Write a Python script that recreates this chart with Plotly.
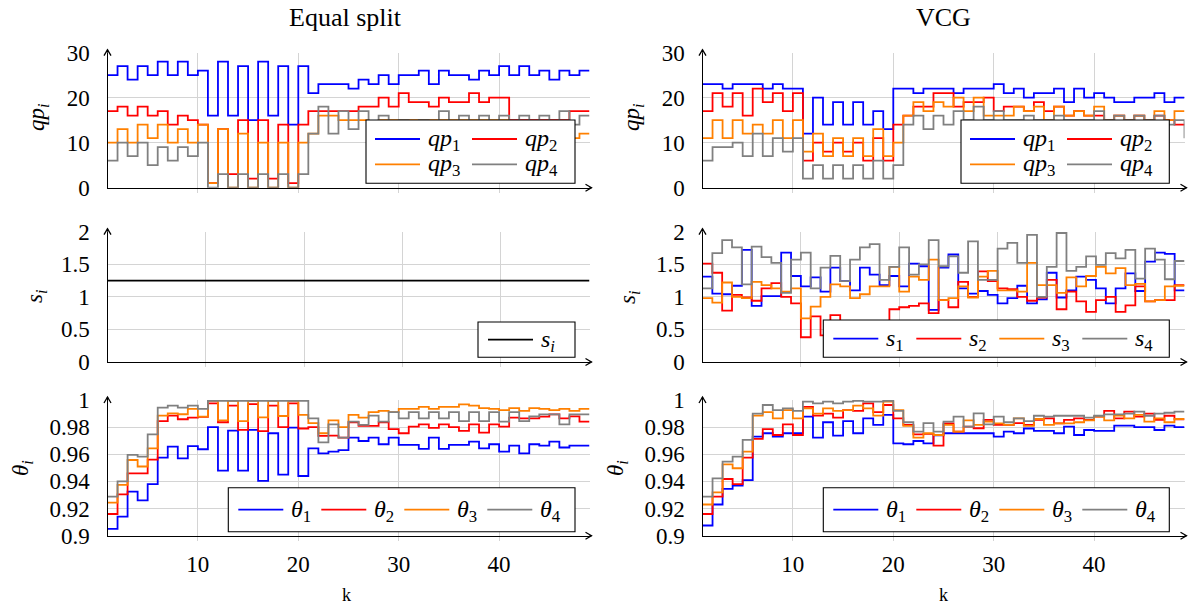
import plotly.graph_objects as go

# ---------------- data ----------------
k_main = list(range(1, 50))   # steps k = 1..49 (last value is the end point)
k_s = list(range(0, 50))      # s-panels run k = 0..49

qp1_eq = [25,27,24,27,25,28,25,28,25,26, 16,28,16,27,15,28,16,27,14,27,
          21,23,23,23,22,24,23,25,23,25, 25,26,23,26,25,25,24,26,25,27,
          25,27,25,26,24,26,25,26, 26]
qp2_eq = [17,18,16,18,16,17,14,16,15,14, 1,13,3,15,2,15,2,14,1,14,
          17,17,17,17,17,18,18,20,18,21, 19,19,18,20,19,19,21,19,20,20,
          15,15,15,15,15,15,17,17, 17]
qp3_eq = [10,13,10,14,11,14,10,13,10,14, 1,13,0,12,0,10,0,10,0,10,
          12,16,16,15,15,15,14,15,15,15, 15,15,15,15,15,15,15,15,15,15,
          14,14,14,14,13,13,11,12, 12]
qp4_eq = [6,10,7,10,5,9,6,9,7,10, 0,3,0,3,0,3,0,3,0,3,
          12,18,12,17,13,17,13,16,13,15, 14,15,14,17,14,16,14,16,14,16,
          14,16,14,16,14,17,14,16, 16]

qp1_vcg = [23,23,22,23,23,23,22,23,22,22, 12,20,14,19,14,19,14,17,13,22,
           22,21,22,22,22,21,22,22,22,23, 21,22,20,21,21,22,19,22,20,21,
           20,19,19,20,20,21,19,20, 20]
qp2_vcg = [17,21,18,21,16,22,19,21,17,21, 6,10,8,10,8,10,6,11,6,14,
           16,18,18,21,21,18,19,19,20,17, 18,18,17,19,17,18,16,17,16,16,
           15,16,15,16,15,16,15,14, 14]
qp3_vcg = [11,15,11,15,12,14,12,15,11,15, 8,12,7,11,7,11,7,13,7,10,
           16,19,17,19,18,20,17,20,16,16, 16,18,17,18,15,18,16,17,16,18,
           15,16,15,16,15,17,15,17, 17]
qp4_vcg = [6,9,9,10,7,12,7,11,8,11, 2,5,2,5,2,5,2,6,2,5,
           14,16,13,16,14,17,15,18,15,17, 15,15,16,15,15,16,15,15,15,17,
           15,16,15,16,15,16,14,15, 11]

s_eq = [1.25] * 50

s1_vcg = [1.31,1.05,1.04,1.17,1.72,0.86,1.01,1.01,1.68,1.32,
          1.16,1.30,1.08,1.45,1.24,1.10,1.45,1.34,1.18,1.32,
          1.16,1.51,1.47,0.80,1.45,1.65,1.13,1.05,1.09,1.03,
          0.90,0.98,1.17,0.90,0.96,1.37,0.99,1.10,1.31,1.26,
          1.13,0.90,1.13,1.36,1.09,1.54,1.68,1.66,1.10, 1.10]
s2_vcg = [1.51,1.37,0.79,1.03,0.99,0.94,1.13,1.21,1.00,0.90,
          0.38,0.70,0.41,0.72,0.55,0.62,0.50,0.58,0.62,0.81,
          0.84,0.86,0.90,0.75,0.95,0.84,1.23,1.00,1.39,1.24,
          1.13,1.12,1.00,0.94,0.99,1.26,0.81,1.08,0.93,0.77,
          0.95,1.00,0.77,0.87,1.16,0.93,0.95,0.95,1.18, 1.18]
s3_vcg = [0.98,0.91,1.22,1.00,0.98,1.23,1.18,1.13,1.08,1.13,
          0.67,0.85,1.00,1.19,1.16,0.98,1.04,1.16,1.16,1.46,
          1.08,1.31,1.26,1.57,0.95,0.98,1.16,0.99,1.31,1.40,
          1.10,1.10,1.08,1.52,1.18,1.18,1.06,1.30,1.16,1.32,
          1.46,1.36,1.44,1.18,1.20,0.93,0.95,1.16,1.17, 1.17]
s4_vcg = [1.13,1.67,1.87,1.76,1.19,1.77,1.61,1.52,1.06,1.57,
          1.68,1.13,1.45,1.63,1.24,1.57,1.76,1.81,1.26,1.46,
          1.76,1.34,1.50,1.87,1.47,1.62,1.37,1.85,1.26,1.26,
          1.74,1.83,1.52,1.95,1.00,1.46,1.98,1.40,1.46,1.62,
          1.49,1.67,1.59,1.72,1.28,1.74,1.57,1.27,1.55, 1.55]

th1_eq = [0.905,0.914,0.9325,0.926,0.938,0.9575,0.9656,0.957,0.966,0.9637,
          0.980,0.948,0.9774,0.948,0.978,0.9404,0.9755,0.945,0.9796,0.944,
          0.9644,0.9607,0.962,0.963,0.9723,0.9698,0.9723,0.9674,0.9723,0.967,
          0.967,0.964,0.9723,0.964,0.967,0.967,0.9693,0.9644,0.9674,0.962,
          0.9664,0.9607,0.9674,0.9664,0.9693,0.965,0.9664,0.9664, 0.9664]
th2_eq = [0.916,0.9305,0.946,0.946,0.956,0.9845,0.9885,0.9858,0.987,0.9875,
          0.9975,0.9836,0.9958,0.978,0.997,0.977,0.9958,0.980,0.9975,0.979,
          0.980,0.9735,0.9737,0.9723,0.9836,0.981,0.981,0.9836,0.9786,0.9755,
          0.9804,0.982,0.9795,0.982,0.980,0.9772,0.982,0.976,0.982,0.9804,
          0.987,0.9865,0.9865,0.9877,0.9894,0.9865,0.988,0.984, 0.984]
th3_eq = [0.9244,0.9374,0.9558,0.951,0.9644,0.9885,0.9902,0.9895,0.9934,0.9877,
          0.9993,0.985,0.9993,0.9845,0.9993,0.9872,0.9993,0.9882,0.9993,0.989,
          0.983,0.9755,0.985,0.980,0.989,0.987,0.991,0.992,0.991,0.9934,
          0.9934,0.995,0.9934,0.995,0.995,0.9968,0.9958,0.994,0.9934,0.9926,
          0.994,0.992,0.994,0.9934,0.9926,0.9934,0.992,0.9934, 0.9934]
th4_eq = [0.9288,0.940,0.9595,0.9583,0.9747,0.9944,0.9958,0.9944,0.9958,0.9934,
          0.9993,0.9993,0.9993,0.9993,0.9993,0.9993,0.9993,0.9993,0.9993,0.9993,
          0.9865,0.9688,0.982,0.9723,0.984,0.9816,0.9885,0.984,0.991,0.9865,
          0.991,0.9865,0.991,0.9865,0.991,0.9845,0.991,0.9845,0.991,0.984,
          0.991,0.9845,0.988,0.9894,0.9894,0.982,0.9894,0.9894, 0.9894]

th1_vcg = [0.9075,0.923,0.9345,0.937,0.941,0.973,0.9755,0.973,0.9755,0.9755,
           0.9877,0.9723,0.9836,0.9737,0.9845,0.9755,0.9865,0.9816,0.989,0.968,
           0.9674,0.9698,0.968,0.974,0.9755,0.9755,0.9755,0.9755,0.9755,0.973,
           0.9767,0.9755,0.979,0.9772,0.9772,0.9755,0.9804,0.9742,0.9779,0.9772,
           0.9772,0.9811,0.9811,0.980,0.980,0.9779,0.9811,0.980, 0.980]
th2_vcg = [0.916,0.9288,0.9418,0.938,0.9575,0.9713,0.9786,0.9742,0.982,0.9742,
           0.995,0.9885,0.990,0.987,0.9926,0.992,0.9975,0.991,0.9963,0.9865,
           0.9816,0.9747,0.975,0.9664,0.9828,0.9767,0.9804,0.9792,0.9853,0.9816,
           0.9816,0.983,0.9816,0.9853,0.9865,0.9828,0.9853,0.9865,0.9853,0.9877,
           0.992,0.9865,0.9914,0.9877,0.990,0.9853,0.9884,0.9858, 0.9858]
th3_vcg = [0.923,0.932,0.9526,0.9497,0.962,0.9885,0.991,0.9865,0.9926,0.9865,
           0.9939,0.990,0.9939,0.992,0.9926,0.9958,0.9939,0.9885,0.9988,0.9926,
           0.981,0.9723,0.9755,0.9742,0.9816,0.9767,0.985,0.9816,0.9841,0.9828,
           0.9816,0.9865,0.981,0.986,0.9816,0.9828,0.9828,0.9836,0.985,0.9877,
           0.985,0.9885,0.9865,0.989,0.984,0.9865,0.9836,0.986, 0.986]
th4_vcg = [0.9288,0.9423,0.9546,0.9583,0.9706,0.990,0.9963,0.9926,0.9939,0.992,
           0.9988,0.9975,0.9988,0.9975,0.9988,0.9993,0.9988,0.9988,0.9993,0.992,
           0.9836,0.9767,0.983,0.9767,0.9841,0.9877,0.9804,0.9902,0.982,0.9877,
           0.9836,0.9865,0.9845,0.9884,0.9877,0.9884,0.9884,0.9884,0.987,0.9884,
           0.9894,0.9894,0.990,0.9914,0.9884,0.990,0.9906,0.9914, 0.9914]

qp_ticks = [0, 10, 20, 30]
s_ticks = [0, 0.5, 1, 1.5, 2]
s_tick_text = ["0", "0.5", "1", "1.5", "2"]
th_ticks = [0.9, 0.92, 0.94, 0.96, 0.98, 1.0]
th_tick_text = ["0.9", "0.92", "0.94", "0.96", "0.98", "1"]
k_ticks = [10, 20, 30, 40]

# ---------------- style ----------------
W, H = 1188, 608
SERIF = "Liberation Serif"
BLUE, RED, ORANGE, GRAY = "#0000ff", "#ff0000", "#ff8000", "#808080"
GRID = "#d4d4d4"
LW = 1.8

def px_x(p):
    return p / W

def px_y(p):
    return 1 - p / H

COLS = [(107.5, 589.5), (702.5, 1184.5)]
ROWS = [(52.7, 187.7), (231.7, 362.0), (400.0, 535.7)]
col_dom = [[px_x(a), px_x(b)] for a, b in COLS]
row_dom = [[px_y(b), px_y(a)] for a, b in ROWS]

fig = go.Figure()

def step(x, y, name, color, ax):
    fig.add_trace(go.Scatter(
        x=x, y=y, mode="lines", line=dict(color=color, width=LW, shape="hv"),
        name=name, xaxis="x" + ax, yaxis="y" + ax, showlegend=False, hoverinfo="skip"))

def sub(t, i):
    return "<i>%s</i><sub>%s</sub>" % (t, i)

series = {
    "1": (k_main, [(qp1_eq, BLUE, sub("qp", 1)), (qp2_eq, RED, sub("qp", 2)),
                   (qp3_eq, ORANGE, sub("qp", 3)), (qp4_eq, GRAY, sub("qp", 4))]),
    "2": (k_main, [(qp1_vcg, BLUE, sub("qp", 1)), (qp2_vcg, RED, sub("qp", 2)),
                   (qp3_vcg, ORANGE, sub("qp", 3)), (qp4_vcg, GRAY, sub("qp", 4))]),
    "3": (k_s, [(s_eq, "#000000", "<i>s<sub>i</sub></i>")]),
    "4": (k_s, [(s1_vcg, BLUE, sub("s", 1)), (s2_vcg, RED, sub("s", 2)),
                (s3_vcg, ORANGE, sub("s", 3)), (s4_vcg, GRAY, sub("s", 4))]),
    "5": (k_main, [(th1_eq, BLUE, sub("θ", 1)), (th2_eq, RED, sub("θ", 2)),
                   (th3_eq, ORANGE, sub("θ", 3)), (th4_eq, GRAY, sub("θ", 4))]),
    "6": (k_main, [(th1_vcg, BLUE, sub("θ", 1)), (th2_vcg, RED, sub("θ", 2)),
                   (th3_vcg, ORANGE, sub("θ", 3)), (th4_vcg, GRAY, sub("θ", 4))]),
}
for key, (xs, lst) in series.items():
    for ys, col, name in lst:
        step(xs, ys, name, col, key)

layout = dict(
    width=W, height=H, margin=dict(l=0, r=0, t=0, b=0, autoexpand=False),
    plot_bgcolor="white", paper_bgcolor="white",
    font=dict(family=SERIF, size=22, color="black"),
    showlegend=False,
)

panels = {
    "1": (0, 0, [1, 49], [0, 30], qp_ticks, [str(v) for v in qp_ticks]),
    "2": (1, 0, [1, 49], [0, 30], qp_ticks, [str(v) for v in qp_ticks]),
    "3": (0, 1, [0, 49], [0, 2], s_ticks, s_tick_text),
    "4": (1, 1, [0, 49], [0, 2], s_ticks, s_tick_text),
    "5": (0, 2, [1, 49], [0.9, 1.0], th_ticks, th_tick_text),
    "6": (1, 2, [1, 49], [0.9, 1.0], th_ticks, th_tick_text),
}
TICKFONT = dict(family=SERIF, size=23, color="black")
shapes = []
for key, (c, r, xr, yr, yt, ytt) in panels.items():
    xname = "xaxis" if key == "1" else "xaxis" + key
    yname = "yaxis" if key == "1" else "yaxis" + key
    layout[xname] = dict(
        domain=col_dom[c], range=xr, anchor="y" + key, automargin=False,
        tickvals=k_ticks, ticktext=[str(v) for v in k_ticks],
        showticklabels=(r == 2), showgrid=True, gridcolor=GRID, gridwidth=1,
        zeroline=False, showline=True, linecolor="black", linewidth=1.3,
        ticks="outside", ticklen=4, tickcolor=GRID, ticklabelstandoff=4,
        tickfont=TICKFONT)
    layout[yname] = dict(
        domain=row_dom[r], range=yr, anchor="x" + key, automargin=False,
        tickvals=yt, ticktext=ytt, showgrid=True, gridcolor=GRID, gridwidth=1,
        zeroline=False, showline=True, linecolor="black", linewidth=1.3,
        ticks="", ticklabelstandoff=12, tickfont=TICKFONT)
    # axis arrow heads (open "->" tips)
    x0, x1 = COLS[c]
    y0, y1 = ROWS[r]
    tx, ty = x1 + 2, y1
    shapes.append(dict(type="path", xref="paper", yref="paper", layer="above",
                       path="M %f,%f L %f,%f L %f,%f" % (
                           px_x(tx - 6), px_y(ty - 3.5), px_x(tx), px_y(ty),
                           px_x(tx - 6), px_y(ty + 3.5)),
                       line=dict(color="black", width=1.3)))
    shapes.append(dict(type="line", xref="paper", yref="paper", layer="above",
                       x0=px_x(x1), x1=px_x(tx), y0=px_y(ty), y1=px_y(ty),
                       line=dict(color="black", width=1.3)))
    tx, ty = x0, y0 - 3
    shapes.append(dict(type="path", xref="paper", yref="paper", layer="above",
                       path="M %f,%f L %f,%f L %f,%f" % (
                           px_x(tx - 3.5), px_y(ty + 6), px_x(tx), px_y(ty),
                           px_x(tx + 3.5), px_y(ty + 6)),
                       line=dict(color="black", width=1.3)))
    shapes.append(dict(type="line", xref="paper", yref="paper", layer="above",
                       x0=px_x(tx), x1=px_x(tx), y0=px_y(y0), y1=px_y(ty),
                       line=dict(color="black", width=1.3)))

annotations = []
LEGFONT = dict(family=SERIF, size=24, color="black")

def legend_box(left, top, right, bottom, items):
    """items: list of (line_x0, row_y, label, color)"""
    shapes.append(dict(type="rect", xref="paper", yref="paper", layer="above",
                       x0=px_x(left), x1=px_x(right), y0=px_y(bottom), y1=px_y(top),
                       fillcolor="white", line=dict(color="black", width=1.1)))
    for lx, ry, label, col in items:
        shapes.append(dict(type="line", xref="paper", yref="paper", layer="above",
                           x0=px_x(lx), x1=px_x(lx + 45), y0=px_y(ry), y1=px_y(ry),
                           line=dict(color=col, width=LW)))
        annotations.append(dict(xref="paper", yref="paper", x=px_x(lx + 51), y=px_y(ry + 1),
                                xanchor="left", yanchor="middle", showarrow=False,
                                text=label, font=LEGFONT))

def grid_items(key, left, rows):
    lst = series[key][1]
    out = []
    for idx, (ys, col, name) in enumerate(lst):
        rr, cc = divmod(idx, 2)
        out.append((left + 9 + cc * 97, rows[rr], name, col))
    return out

def row_items(key, left, ry):
    lst = series[key][1]
    return [(left + 10 + idx * 83, ry, name, col) for idx, (ys, col, name) in enumerate(lst)]

legend_box(366, 120, 575, 183.3, grid_items("1", 366, [139, 164.3]))
legend_box(961, 120, 1169.3, 183.3, grid_items("2", 961, [139, 164.3]))
legend_box(478, 322, 575, 357.3, [(488, 339.6, series["3"][1][0][2], "#000000")])
legend_box(823.3, 320, 1169.3, 357.3, row_items("4", 823.3, 338.6))
legend_box(228.3, 487.7, 575, 531.7, row_items("5", 228.3, 509.7))
legend_box(823.3, 487.7, 1169.3, 531.7, row_items("6", 823.3, 509.7))

def text_ann(x, y, text, size, angle=0):
    return dict(xref="paper", yref="paper", x=px_x(x), y=px_y(y), text=text,
                showarrow=False, textangle=angle, xanchor="center", yanchor="middle",
                font=dict(family=SERIF, size=size, color="black"))

annotations += [
    text_ann(345, 18, "Equal split", 26),
    text_ann(943, 18, "VCG", 26),
    text_ann(38, 118, "<i>qp<sub>i</sub></i>", 23, -90),
    text_ann(633, 118, "<i>qp<sub>i</sub></i>", 23, -90),
    text_ann(36, 297, "<i>s<sub>i</sub></i>", 23, -90),
    text_ann(629, 297, "<i>s<sub>i</sub></i>", 23, -90),
    text_ann(22, 468, "<i>θ<sub>i</sub></i>", 23, -90),
    text_ann(617, 468, "<i>θ<sub>i</sub></i>", 23, -90),
    text_ann(346, 595, "k", 18),
    text_ann(943, 595, "k", 18),
]
layout["annotations"] = annotations
layout["shapes"] = shapes

fig.update_layout(**layout)
fig.write_html("out.html")
